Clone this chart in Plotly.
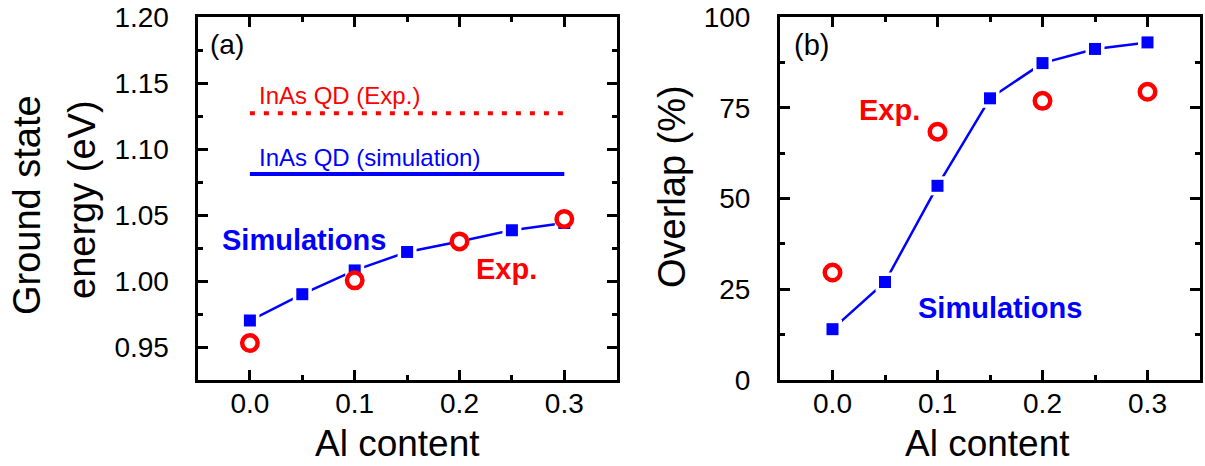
import plotly.graph_objects as go
from plotly.subplots import make_subplots

# ---- data -------------------------------------------------------------
al_sim = [0.0, 0.05, 0.10, 0.15, 0.20, 0.25, 0.30]
energy_sim = [0.970, 0.990, 1.008, 1.022, 1.030, 1.0385, 1.044]
al_exp = [0.0, 0.10, 0.20, 0.30]
energy_exp = [0.953, 1.0005, 1.030, 1.047]

inas_span = [0.0, 0.30]
inas_exp_level = [1.127, 1.127]
inas_sim_level = [1.081, 1.081]

overlap_sim = [14.0, 27.0, 53.5, 77.6, 87.3, 91.2, 93.0]
overlap_exp = [29.6, 68.4, 76.9, 79.4]

x_ticks = [0.0, 0.1, 0.2, 0.3]
x_tick_text = ["0.0", "0.1", "0.2", "0.3"]
e_ticks = [0.95, 1.00, 1.05, 1.10, 1.15, 1.20]
e_tick_text = ["0.95", "1.00", "1.05", "1.10", "1.15", "1.20"]
o_ticks = [0, 25, 50, 75, 100]
o_tick_text = ["0", "25", "50", "75", "100"]

BLUE = "#0000ff"
RED = "#ff0000"
FONT = "Liberation Sans, Arial, sans-serif"
W, H = 1205, 466


def px(x, y):
    """Pixel position on the page -> paper coordinates."""
    return x / W, 1 - y / H


fig = make_subplots(rows=1, cols=2)


def sim_series(x, y, col):
    # connecting line
    fig.add_trace(go.Scatter(x=x, y=y, mode="lines",
                             line=dict(color=BLUE, width=2.5),
                             hoverinfo="skip", showlegend=False), row=1, col=col)
    # white halo that opens a small gap in the line around each square
    fig.add_trace(go.Scatter(x=x, y=y, mode="markers",
                             marker=dict(symbol="square", size=19, color="white"),
                             hoverinfo="skip", showlegend=False), row=1, col=col)
    fig.add_trace(go.Scatter(x=x, y=y, mode="markers",
                             marker=dict(symbol="square", size=12, color=BLUE),
                             showlegend=False), row=1, col=col)


def exp_series(x, y, col):
    # red rings with a white centre
    fig.add_trace(go.Scatter(x=x, y=y, mode="markers",
                             marker=dict(symbol="circle", size=15.5,
                                         color="white", line=dict(color=RED, width=4.5)),
                             showlegend=False), row=1, col=col)


# (a) ground state energy
fig.add_trace(go.Scatter(x=inas_span, y=inas_exp_level, mode="lines",
                         line=dict(color=RED, width=4, dash="5px,9px"),
                         showlegend=False), row=1, col=1)
fig.add_trace(go.Scatter(x=inas_span, y=inas_sim_level, mode="lines",
                         line=dict(color=BLUE, width=4),
                         showlegend=False), row=1, col=1)
sim_series(al_sim, energy_sim, 1)
exp_series(al_exp, energy_exp, 1)

# (b) overlap
sim_series(al_sim, overlap_sim, 2)
exp_series(al_exp, overlap_exp, 2)

axis_common = dict(
    showline=True, linecolor="black", linewidth=3, mirror="allticks",
    ticks="inside", ticklen=10, tickwidth=2.5, tickcolor="black",
    showgrid=False, zeroline=False, automargin=False,
    tickfont=dict(family=FONT, size=28, color="black"),
)

x_common = dict(axis_common, range=[-0.05, 0.35], tickvals=x_ticks,
                ticktext=x_tick_text, ticklabelstandoff=-4,
                minor=dict(dtick=0.05, tick0=0, ticks="inside", ticklen=5,
                           tickwidth=2.5, tickcolor="black", showgrid=False))

ydom = [1 - 380 / H, 1 - 17 / H]
fig.update_layout(
    xaxis=dict(x_common, domain=[197.5 / W, 616.7 / W]),
    xaxis2=dict(x_common, domain=[780 / W, 1200 / W]),
    yaxis=dict(axis_common, domain=ydom, range=[0.925, 1.20],
               tickvals=e_ticks, ticktext=e_tick_text, ticklabelstandoff=20,
               minor=dict(dtick=0.025, tick0=0.925, ticks="inside", ticklen=5,
                          tickwidth=2.5, tickcolor="black", showgrid=False)),
    yaxis2=dict(axis_common, domain=ydom, range=[0, 100],
                tickvals=o_ticks, ticktext=o_tick_text, ticklabelstandoff=21,
                minor=dict(dtick=12.5, tick0=0, ticks="inside", ticklen=5,
                           tickwidth=2.5, tickcolor="black", showgrid=False)),
    width=W, height=H,
    margin=dict(l=0, r=0, t=0, b=0, pad=0, autoexpand=False),
    paper_bgcolor="white", plot_bgcolor="white",
    font=dict(family=FONT, color="black"),
)


def label(text, x, y, size, color="black", bold=False, angle=0,
          xanchor="center", yanchor="middle"):
    xp, yp = px(x, y)
    fig.add_annotation(text=f"<b>{text}</b>" if bold else text,
                       x=xp, y=yp, xref="paper", yref="paper",
                       xanchor=xanchor, yanchor=yanchor, textangle=angle,
                       showarrow=False,
                       font=dict(family=FONT, size=size, color=color))


# axis titles
label("Ground state", 27, 205, 38, angle=-90)
label("energy (eV)", 82, 200, 38, angle=-90)
label("Al content", 397, 443, 37)
label("Overlap (%)", 672, 187, 38, angle=-90)
label("Al content", 987, 443, 37)

# panel tags and in-plot text
label("(a)", 208, 45, 28, xanchor="left")
label("(b)", 792, 45, 29, xanchor="left")
label("InAs QD (Exp.)", 257, 95, 24, color=RED, xanchor="left")
label("InAs QD (simulation)", 257, 157, 24, color=BLUE, xanchor="left")
label("Simulations", 304, 240, 29, color=BLUE, bold=True)
label("Exp.", 506, 269, 29, color=RED, bold=True)
label("Exp.", 889, 110, 29, color=RED, bold=True)
label("Simulations", 1000, 308, 29, color=BLUE, bold=True)

fig.write_html("out.html")
